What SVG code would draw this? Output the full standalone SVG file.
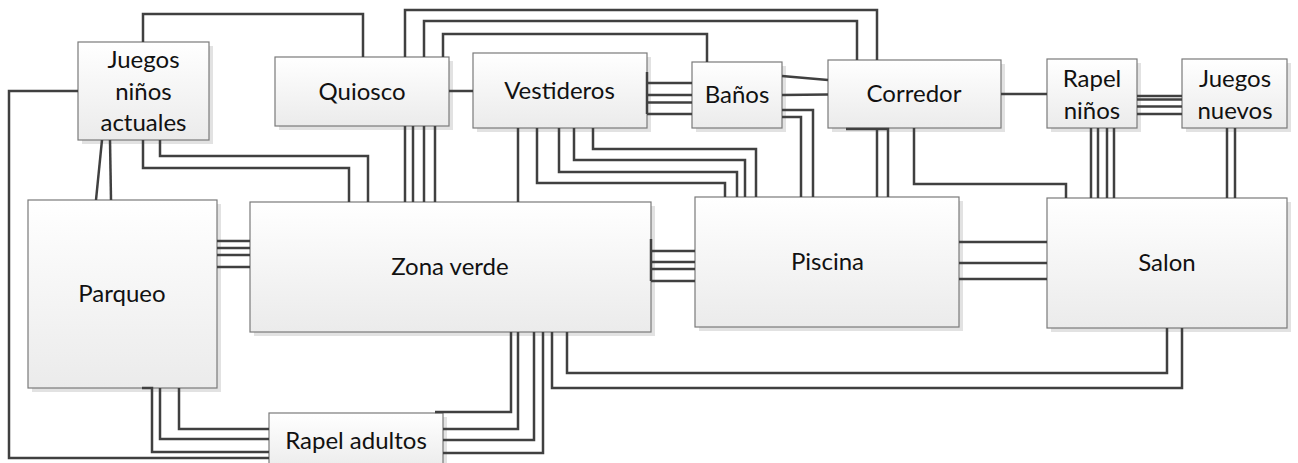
<svg xmlns="http://www.w3.org/2000/svg" width="1298" height="463" viewBox="0 0 1298 463">
<defs>
<linearGradient id="g" x1="0" y1="0" x2="0" y2="1">
<stop offset="0" stop-color="#ffffff"/>
<stop offset="1" stop-color="#ebebeb"/>
</linearGradient>
<style>
.box{fill:url(#g);stroke:#7a7a7a;stroke-width:1.2}
.sh{fill:#e2e2e2}
.t{font-family:"Lato","Liberation Sans",sans-serif;font-size:24px;fill:#111;text-anchor:middle}
#connectors path{fill:none;stroke:#404040;stroke-width:2.5}
</style>
</defs>
<rect width="1298" height="463" fill="#fff"/>
<g id="shadows">
<rect class="sh" x="82" y="46" width="131" height="98"/>
<rect class="sh" x="279" y="61" width="174" height="69"/>
<rect class="sh" x="477" y="57" width="174" height="75"/>
<rect class="sh" x="696" y="66" width="90" height="66"/>
<rect class="sh" x="832" y="64" width="173" height="68"/>
<rect class="sh" x="1051" y="63" width="90" height="69"/>
<rect class="sh" x="1186" y="63" width="105" height="69"/>
<rect class="sh" x="32" y="204" width="189" height="188"/>
<rect class="sh" x="254" y="206" width="401" height="130"/>
<rect class="sh" x="699" y="201" width="264" height="130"/>
<rect class="sh" x="1051" y="202" width="240" height="130"/>
<rect class="sh" x="273" y="417" width="174" height="57"/>
</g>
<g id="n-juegos"><rect class="box" x="78" y="42" width="131" height="98"/><text class="t" x="143.5" y="68">Juegos</text><text class="t" x="143.5" y="100">niños</text><text class="t" x="143.5" y="131">actuales</text></g>
<g id="n-quiosco"><rect class="box" x="275" y="57" width="174" height="69"/><text class="t" x="362" y="100">Quiosco</text></g>
<g id="n-vestideros"><rect class="box" x="473" y="53" width="174" height="75"/><text class="t" x="559.5" y="98.5">Vestideros</text></g>
<g id="n-banos"><rect class="box" x="692" y="62" width="90" height="66"/><text class="t" x="737" y="102.5">Baños</text></g>
<g id="n-corredor"><rect class="box" x="828" y="60" width="173" height="68"/><text class="t" x="914" y="102">Corredor</text></g>
<g id="n-rapelninos"><rect class="box" x="1047" y="59" width="90" height="69"/><text class="t" x="1092" y="87">Rapel</text><text class="t" x="1092" y="118.5">niños</text></g>
<g id="n-juegosnuevos"><rect class="box" x="1182" y="59" width="105" height="69"/><text class="t" x="1235" y="87">Juegos</text><text class="t" x="1235" y="118.5">nuevos</text></g>
<g id="n-parqueo"><rect class="box" x="28" y="200" width="189" height="188"/><text class="t" x="122" y="302">Parqueo</text></g>
<g id="n-zonaverde"><rect class="box" x="250" y="202" width="401" height="130"/><text class="t" x="450" y="275">Zona verde</text></g>
<g id="n-piscina"><rect class="box" x="695" y="197" width="264" height="130"/><text class="t" x="827.5" y="270">Piscina</text></g>
<g id="n-salon"><rect class="box" x="1047" y="198" width="240" height="130"/><text class="t" x="1167" y="271">Salon</text></g>
<g id="n-rapeladultos"><rect class="box" x="269" y="413" width="174" height="57"/><text class="t" x="356" y="448.5">Rapel adultos</text></g>
<g id="connectors">
<path d="M143,42 V14 H363 V57"/>
<path d="M78,91 H9 V458 H269"/>
<path d="M102,140 L96,200"/>
<path d="M110,140 L111,200"/>
<path d="M143,140 V168 H349 V202"/>
<path d="M160,140 V156 H368 V202"/>
<path d="M405,126 V202"/>
<path d="M413,126 V202"/>
<path d="M424,126 V202"/>
<path d="M435,126 V202"/>
<path d="M405,57 V10 H877 V60"/>
<path d="M424,57 V21 H857 V60"/>
<path d="M443,57 V34 H707 V62"/>
<path d="M449,91 H473"/>
<path d="M647,72 V114"/>
<path d="M647,83 H692"/>
<path d="M647,95 H692"/>
<path d="M647,102.5 H692"/>
<path d="M647,114 H692"/>
<path d="M518,128 V202"/>
<path d="M537,128 V183 H725 V197"/>
<path d="M559,128 V172 H737 V197"/>
<path d="M574,128 V160 H745 V197"/>
<path d="M593,128 V149 H756 V197"/>
<path d="M782,76 L828,80"/>
<path d="M782,95 L828,94.5"/>
<path d="M782,110 H813 V197"/>
<path d="M782,117 H801 V197"/>
<path d="M846,129 H888 V197"/>
<path d="M877,129 V197"/>
<path d="M914,128 V184 H1066 V198"/>
<path d="M1001,94 H1047"/>
<path d="M1137,96 H1182"/>
<path d="M1137,99.5 H1182"/>
<path d="M1137,106.5 H1182"/>
<path d="M1137,114 H1182"/>
<path d="M1091,128 V198"/>
<path d="M1098,128 V198"/>
<path d="M1107,128 V198"/>
<path d="M1114,128 V198"/>
<path d="M1227,128 V198"/>
<path d="M1235,128 V198"/>
<path d="M217,241 H250"/>
<path d="M217,248 H250"/>
<path d="M217,255 H250"/>
<path d="M217,267 H250"/>
<path d="M142,388 H152 V452 H269"/>
<path d="M160,388 V439 H269"/>
<path d="M179,388 V429 H269"/>
<path d="M651,239 V281"/>
<path d="M651,251 H695"/>
<path d="M651,262 H695"/>
<path d="M651,269 H695"/>
<path d="M651,281 H695"/>
<path d="M511,332 V412 H435"/>
<path d="M518,332 V429 H443"/>
<path d="M534,332 V440 H443"/>
<path d="M543,332 V453 H443"/>
<path d="M552,332 V388 H1182 V328"/>
<path d="M567,332 V373 H1167 V328"/>
<path d="M959,242 H1047"/>
<path d="M959,263 H1047"/>
<path d="M959,279 H1047"/>
</g>
</svg>
